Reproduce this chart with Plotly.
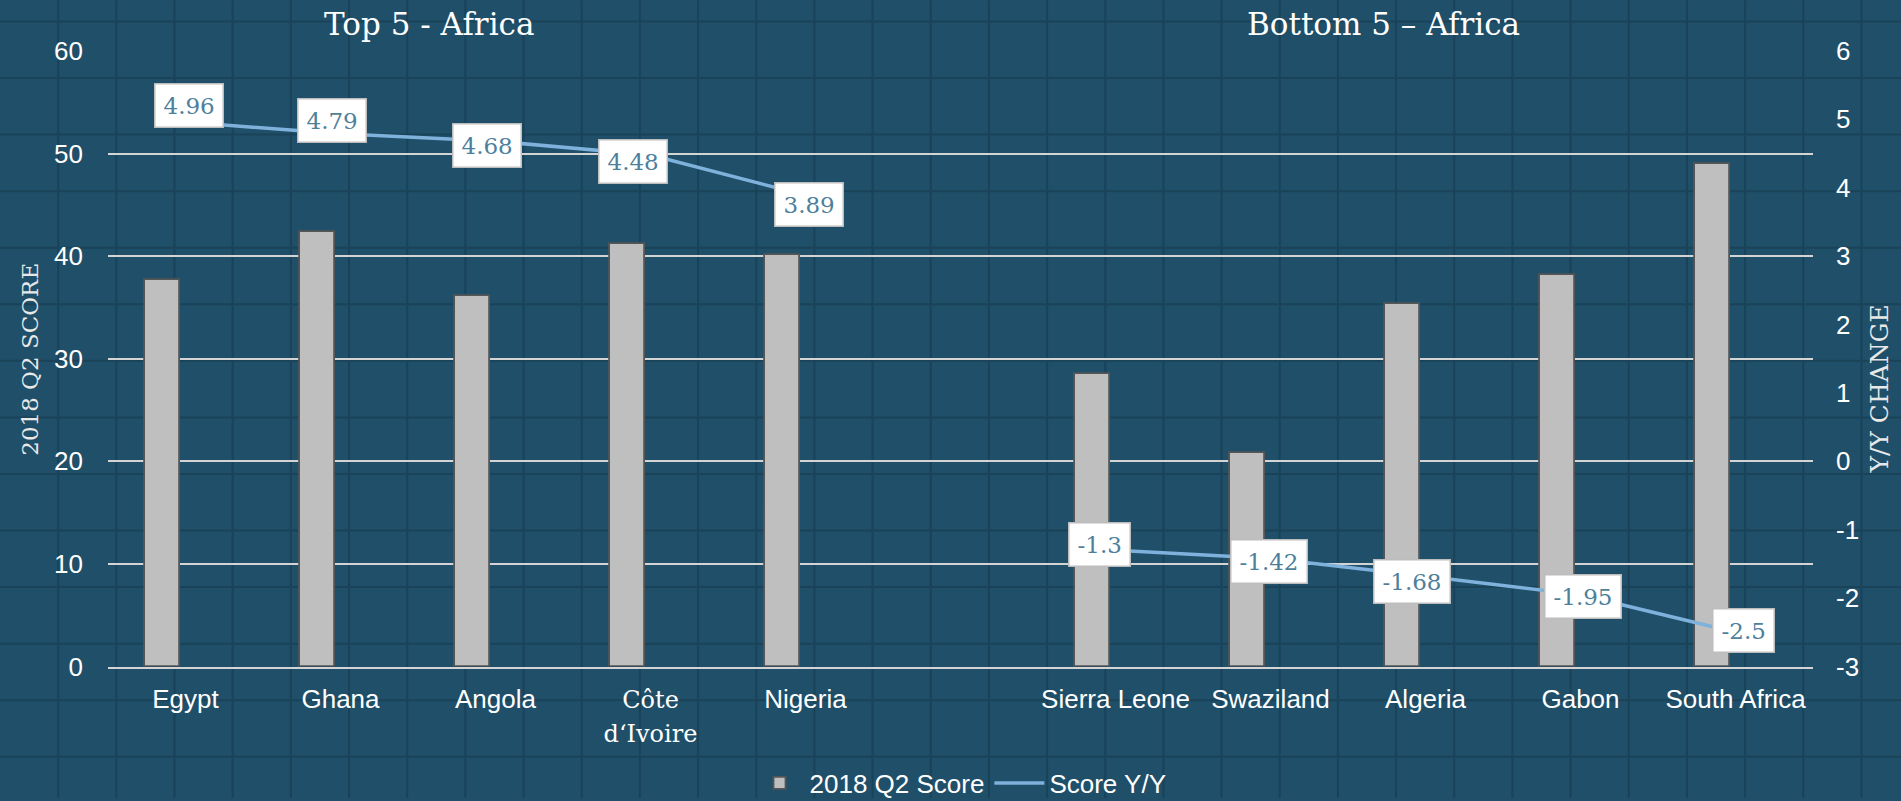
import plotly.graph_objects as go

# ---------------- data ----------------
categories = ["Egypt", "Ghana", "Angola", "Côte d‘Ivoire", "Nigeria", " ",
              "Sierra Leone", "Swaziland", "Algeria", "Gabon", "South Africa"]
score_2018_q2 = [37.7, 42.4, 36.1, 41.2, 40.1, None, 28.5, 20.8, 35.3, 38.2, 49.0]
score_yy = [4.96, 4.79, 4.68, 4.48, 3.89, None, -1.3, -1.42, -1.68, -1.95, -2.5]
left_ticks = [0, 10, 20, 30, 40, 50, 60]
right_ticks = [-3, -2, -1, 0, 1, 2, 3, 4, 5, 6]
group_titles = ["Top 5 - Africa", "Bottom 5 – Africa"]

# ---------------- style / layout ----------------
W, H = 1901, 801
ML, MR, MT, MB = 108, 88, 51, 132
PW, PH = W - ML - MR, H - MT - MB

BG = "#1f4f69"
BG_GRID = "#1a4359"
GRID = "#d4d4d4"
SANS = "Liberation Sans, Arial, sans-serif"
SERIF = "DejaVu Serif, serif"
LABEL_COLOR = "#4e7f9b"

def px_x(px):
    return (px - ML) / PW

def px_y(py):
    return (H - MB - py) / PH

serif_span = '<span style="font-family:DejaVu Serif;font-size:24px">{}</span>'
tick_text = []
for c in categories:
    if c.startswith("Côte"):
        a, b = c.split(" ", 1)
        tick_text.append(serif_span.format(a) + "<br>" + serif_span.format(b))
    else:
        tick_text.append(c)

# label nudges (screen px): right, up
label_dx = [3, -9, -9, -18, 3, 0, -16, -2, -14, 2, 8]
label_dy = [17, 13, -4, -7, -9, 0, 6, -3, -5, -2, 2]

fig = go.Figure()

fig.add_trace(go.Bar(
    x=categories, y=score_2018_q2, name="2018 Q2 Score",
    width=0.226, offset=-0.263,
    marker=dict(color="#bfbfbf", line=dict(color="#555555", width=1.8)),
    yaxis="y",
))
fig.add_trace(go.Scatter(
    x=categories, y=score_yy, name="Score Y/Y", mode="lines",
    line=dict(color="#7eb1db", width=3.5), connectgaps=False,
    yaxis="y2",
))

shapes = []
# decorative background grid
k = 1
while 58.17 * k < W:
    xp = px_x(58.17 * k)
    shapes.append(dict(type="line", xref="paper", yref="paper", x0=xp, x1=xp,
                       y0=px_y(H), y1=px_y(0), layer="below",
                       line=dict(color=BG_GRID, width=2)))
    k += 1
k = 0
while 21.3 + 56.8 * k < H:
    yp = px_y(21.3 + 56.8 * k)
    shapes.append(dict(type="line", xref="paper", yref="paper", x0=px_x(0), x1=px_x(W),
                       y0=yp, y1=yp, layer="below",
                       line=dict(color=BG_GRID, width=2)))
    k += 1

annotations = []
for i, (c, v) in enumerate(zip(categories, score_yy)):
    if v is None:
        continue
    annotations.append(dict(
        x=c, y=v, xref="x", yref="y2", text=str(v), showarrow=False,
        xanchor="center", yanchor="middle",
        xshift=label_dx[i], yshift=label_dy[i], height=26,
        font=dict(family=SERIF, size=23, color=LABEL_COLOR),
        bgcolor="#ffffff", bordercolor="#bdbdbd", borderwidth=1.5, borderpad=8,
    ))

annotations.append(dict(x=px_x(429), y=px_y(24), xref="paper", yref="paper",
                        text=group_titles[0], showarrow=False,
                        xanchor="center", yanchor="middle",
                        font=dict(family=SERIF, size=31, color="#ffffff")))
annotations.append(dict(x=px_x(1383), y=px_y(24), xref="paper", yref="paper",
                        text=group_titles[1], showarrow=False,
                        xanchor="center", yanchor="middle",
                        font=dict(family=SERIF, size=31, color="#ffffff")))
annotations.append(dict(x=px_x(30), y=px_y(361), xref="paper", yref="paper",
                        text="2018 Q2 SCORE", showarrow=False, textangle=-90,
                        xanchor="center", yanchor="middle",
                        font=dict(family=SERIF, size=23, color="#e8e8e8")))
annotations.append(dict(x=px_x(1880), y=px_y(391), xref="paper", yref="paper",
                        text="Y/Y CHANGE", showarrow=False, textangle=-90,
                        xanchor="center", yanchor="middle",
                        font=dict(family=SERIF, size=25, color="#e8e8e8")))

fig.update_layout(
    width=W, height=H,
    margin=dict(l=ML, r=MR, t=MT, b=MB, pad=0),
    paper_bgcolor=BG, plot_bgcolor=BG,
    showlegend=True,
    legend=dict(orientation="h", x=0.5, xanchor="center", xref="paper",
                y=1 - 783 / H, yref="container", yanchor="middle",
                font=dict(family=SANS, size=26, color="#ffffff"),
                bgcolor="rgba(0,0,0,0)", itemwidth=50),
    xaxis=dict(type="category", categoryorder="array", categoryarray=categories,
               range=[-0.5, 10.5], tickvals=categories, ticktext=tick_text,
               showgrid=False, zeroline=False, showline=True,
               linecolor=GRID, linewidth=2, ticks="",
               tickfont=dict(family=SANS, size=26, color="#ffffff"),
               ticklabelstandoff=8),
    yaxis=dict(range=[0, 60], tickvals=left_ticks, showgrid=True,
               gridcolor=GRID, gridwidth=1.8, zeroline=False, showline=False,
               ticks="", tickfont=dict(family=SANS, size=26, color="#ffffff"),
               ticklabelstandoff=24),
    yaxis2=dict(range=[-3, 6], overlaying="y", side="right",
                tickvals=right_ticks, ticktext=[str(t) for t in right_ticks],
                showgrid=False, zeroline=False, showline=False, ticks="",
                tickfont=dict(family=SANS, size=26, color="#ffffff"),
                ticklabelstandoff=22),
    shapes=shapes,
    annotations=annotations,
    bargap=0,
)

fig.write_html("out.html", config={"displayModeBar": False},
               post_script="document.body.style.margin='0';document.body.style.overflow='hidden';")
